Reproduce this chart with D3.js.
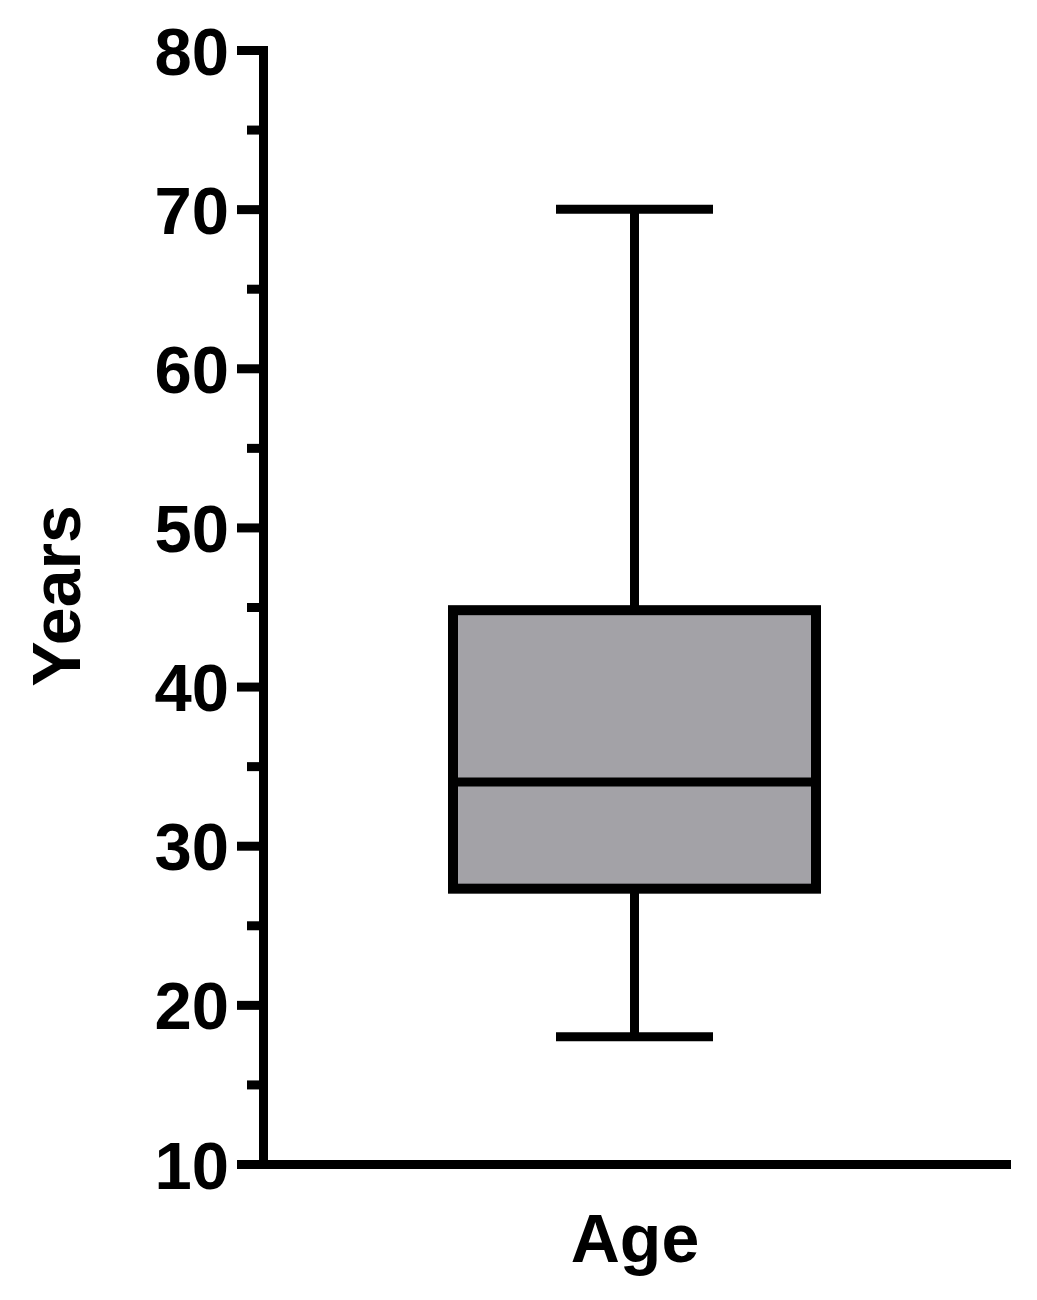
<!DOCTYPE html>
<html lang="en">
<head>
	<meta charset="utf-8" />
	<title>Age box plot</title>
	<script type="text/javascript" src="https://d3js.org/d3.v7.min.js"></script>
	<style>
		body { margin: 0; background: #fff; }
		text { font-family: "Liberation Sans", Arial, sans-serif; font-weight: bold; fill: #000; }
	</style>
</head>
<body>
<script type="text/javascript">

	// data
	var categories = ['Age'];
	var whiskerLow = [18];
	var q1 = [27.3];
	var median = [34.0];
	var q3 = [44.8];
	var whiskerHigh = [70];
	var yTicks = [10, 20, 30, 40, 50, 60, 70, 80];
	var yMinorTicks = [15, 25, 35, 45, 55, 65, 75];

	var rows = categories.map(function(c, i) {
		return { name: c, lo: whiskerLow[i], q1: q1[i], med: median[i], q3: q3[i], hi: whiskerHigh[i] };
	});

	var width = 1037, height = 1300;
	var svg = d3.select('body').append('svg')
		.attr('width', width)
		.attr('height', height);

	var y = d3.scaleLinear()
		.domain([10, 80])
		.range([1164, 50]);

	var x = d3.scalePoint()
		.domain(categories)
		.range([263, 1006])
		.padding(0.5);

	var boxW = 363, capW = 157, lw = 9;

	// minor ticks
	svg.append('g')
		.attr('transform', 'translate(263,0)')
		.call(d3.axisLeft(y).tickValues(yMinorTicks).tickSize(16).tickFormat(''))
		.call(function(g) { g.select('.domain').remove(); })
		.selectAll('line').attr('stroke', '#000').attr('stroke-width', lw);

	// y axis
	var yAxis = svg.append('g')
		.attr('transform', 'translate(263,0)')
		.call(d3.axisLeft(y).tickValues(yTicks).tickSize(26).tickSizeOuter(0).tickPadding(8));
	yAxis.select('.domain').attr('stroke', '#000').attr('stroke-width', lw).attr('stroke-linecap', 'square');
	yAxis.selectAll('line').attr('stroke', '#000').attr('stroke-width', lw);
	yAxis.selectAll('text')
		.style('font-size', '67px')
		.attr('dy', '0.36em');

	// x axis
	var xAxis = svg.append('g')
		.attr('transform', 'translate(0,1164)')
		.call(d3.axisBottom(x).tickSize(0).tickSizeOuter(0).tickPadding(50));
	xAxis.select('.domain').attr('stroke', '#000').attr('stroke-width', lw).attr('stroke-linecap', 'square');
	xAxis.selectAll('text').style('font-size', '68px');

	// y title
	svg.append('text')
		.attr('transform', 'translate(80,596) rotate(-90)')
		.attr('text-anchor', 'middle')
		.style('font-size', '68px')
		.text('Years');

	var g = svg.append('g').selectAll('g')
		.data(rows)
		.enter().append('g');

	// whiskers
	g.append('line')
		.attr('x1', function(d) { return x(d.name); })
		.attr('x2', function(d) { return x(d.name); })
		.attr('y1', function(d) { return y(d.hi); })
		.attr('y2', function(d) { return y(d.lo); })
		.attr('stroke', '#000').attr('stroke-width', lw);

	g.selectAll('.cap')
		.data(function(d) { return [d.lo, d.hi].map(function(v) { return { name: d.name, v: v }; }); })
		.enter().append('line')
		.attr('class', 'cap')
		.attr('x1', function(d) { return x(d.name) - capW / 2; })
		.attr('x2', function(d) { return x(d.name) + capW / 2; })
		.attr('y1', function(d) { return y(d.v); })
		.attr('y2', function(d) { return y(d.v); })
		.attr('stroke', '#000').attr('stroke-width', lw);

	// box
	g.append('rect')
		.attr('x', function(d) { return x(d.name) - boxW / 2; })
		.attr('y', function(d) { return y(d.q3); })
		.attr('width', boxW)
		.attr('height', function(d) { return y(d.q1) - y(d.q3); })
		.attr('fill', '#a3a2a7')
		.attr('stroke', '#000')
		.attr('stroke-width', 10);

	// median
	g.append('line')
		.attr('x1', function(d) { return x(d.name) - boxW / 2; })
		.attr('x2', function(d) { return x(d.name) + boxW / 2; })
		.attr('y1', function(d) { return y(d.med); })
		.attr('y2', function(d) { return y(d.med); })
		.attr('stroke', '#000').attr('stroke-width', lw);

</script>
</body>
</html>
